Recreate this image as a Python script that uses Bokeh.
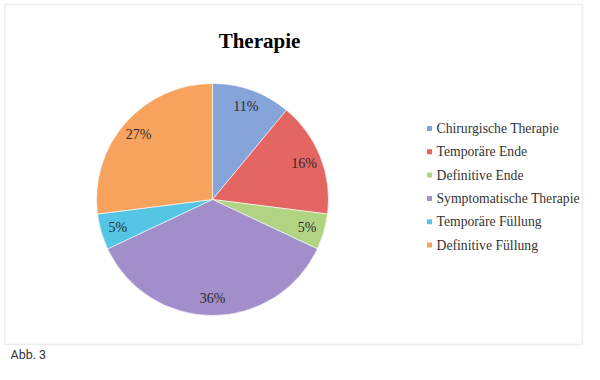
import numpy as np
from bokeh.plotting import figure
from bokeh.models import Range1d, ColumnDataSource, BoxAnnotation
from bokeh.core.properties import value
from bokeh.embed import file_html
from bokeh.resources import INLINE

# ---- data ----
categories = ["Chirurgische Therapie", "Temporäre Ende", "Definitive Ende",
              "Symptomatische Therapie", "Temporäre Füllung", "Definitive Füllung"]
percents = [11, 16, 5, 36, 5, 27]
colors = ["#85A4D9", "#E46662", "#B0D482", "#A18ECA", "#55C5E4", "#F7A35E"]
title_text = "Therapie"
caption = "Abb. 3"

# ---- layout (data units == screen pixels; y up: data_y = 380 - screen_y) ----
W, H = 584, 364
p = figure(width=W, height=H, output_backend="svg", toolbar_location=None,
           x_range=Range1d(0, W), y_range=Range1d(380 - H, 380),
           min_border=0, min_border_left=0, min_border_right=0,
           min_border_top=0, min_border_bottom=0)
p.axis.visible = False
p.grid.visible = False
p.outline_line_color = None
p.background_fill_color = "white"
p.border_fill_color = "white"

# chart box
p.add_layout(BoxAnnotation(left=4, right=582, top=376, bottom=36,
                           fill_color=None, line_color="#C4C4C4", line_width=1.5))

cx, cy, R = 212, 181, 116
vals = np.array(percents, dtype=float)
frac = vals / vals.sum()
cum = np.concatenate([[0], np.cumsum(frac)])
start = np.pi / 2 - 2 * np.pi * cum[:-1]
end = np.pi / 2 - 2 * np.pi * cum[1:]
mid = (start + end) / 2

src = ColumnDataSource(dict(x=[cx] * len(vals), y=[cy] * len(vals), start=start, end=end,
                            color=colors, label=categories,
                            lx=cx + 0.85 * R * np.cos(mid), ly=cy + 0.85 * R * np.sin(mid),
                            txt=[f"{v}%" for v in percents]))
p.wedge(x="x", y="y", radius=R, start_angle="start", end_angle="end", direction="clock",
        fill_color="color", line_color="white", line_width=0.6, source=src)

p.text(x="lx", y="ly", text="txt", source=src, text_align="center", text_baseline="middle",
       text_font=value("Liberation Serif"), text_font_size="14px", text_color="#2a2a2a")

# title
p.text(x=[259], y=[340], text=[title_text], text_align="center", text_baseline="alphabetic",
       text_font=value("Liberation Serif"), text_font_size="21px", text_font_style="bold",
       text_color="black")

# legend (manual)
n = len(categories)
ly = [252 - 23.3 * i for i in range(n)]
p.scatter(x=[429] * n, y=ly, marker="square", size=5, fill_color=colors, line_color=None)
p.text(x=[436] * n, y=ly, text=categories, text_align="left", text_baseline="middle",
       text_font=value("Liberation Serif"), text_font_size="13.7px", text_color="#333333")

# caption
p.text(x=[10], y=[26], text=[caption], text_align="left", text_baseline="middle",
       text_font=value("Roboto"), text_font_size="12.5px", text_color="#333333")

open("out.html", "w").write(file_html(p, INLINE))
